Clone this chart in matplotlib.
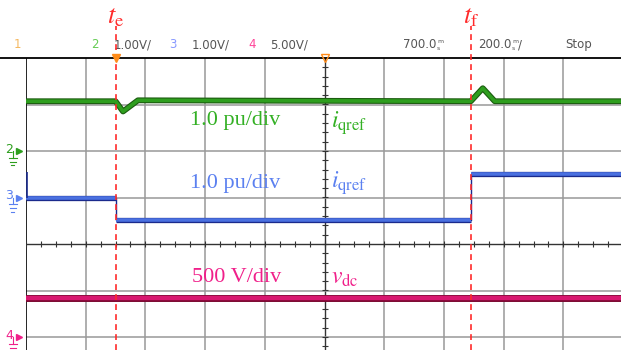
"""
Scope capture: iq, iqref and vdc around the events te and tf
"""
import numpy as np
import matplotlib.pyplot as plt
import matplotlib.patheffects as pe

plt.rcParams['mathtext.fontset'] = 'stix'

# time base
sec_per_div = 0.2
t_end = 1.993
t_e = 0.30
t_f = 1.49

# channel 2 (green), pu, ground marker at +2 div, 1.0 pu/div
ch2_offset = 2.0
ch2_t = [0.0, 0.300, 0.325, 0.375, 1.490, 1.530, 1.570, t_end]
ch2_v = [1.07, 1.07, 0.85, 1.09, 1.07, 1.35, 1.07, 1.07]

# channel 3 (blue), pu, ground marker at +1 div, 1.0 pu/div
ch3_offset = 1.0
ch3_edges = [0.0, t_e, t_f, t_end]
ch3_levels = [0.0, -0.48, 0.5]
ch3_spike = 0.55

# channel 4 (pink), volts, ground marker at -2 div, 500 V/div
ch4_offset = -2.0
ch4_volts_per_div = 500.0
ch4_t = [0.0, t_end]
ch4_v = [420.0, 420.0]

ylim = (-106 / 46.5, 4.0)

green, green_dk, green_txt = '#2e9e1e', '#1c5c10', '#33b024'
blue, blue_dk, blue_txt = '#4a70e0', '#1a2a8c', '#5b80f0'
pink, pink_dk, pink_txt = '#d81870', '#7a0830', '#f0208a'
red = '#ff2a2a'

fig = plt.figure(figsize=(6.21, 3.5), dpi=100)
ax = fig.add_axes([26 / 621, 0, 595 / 621, 292 / 350])
ax.set_xlim(0, t_end)
ax.set_ylim(*ylim)
ax.axis('off')

# grid
for k in range(1, 10):
    x = k * sec_per_div
    if k == 5:
        ax.axvline(x, color='#333333', lw=1.0, zorder=1)
    else:
        ax.axvline(x, color='#999999', lw=1.1, zorder=1)
for k in [-2, -1, 1, 2, 3]:
    ax.axhline(k, color='#999999', lw=1.1, zorder=1)
ax.axhline(0, color='#333333', lw=1.0, zorder=1)
ax.axvline(0, color='black', lw=1.2, zorder=1)
ax.plot([-0.09, t_end], [4, 4], color='black', lw=1.3, clip_on=False, zorder=1)

# center tick marks
xt = np.arange(0, t_end, sec_per_div / 4)
ax.plot(xt, np.zeros_like(xt), ls='', marker='|', ms=4, color='#333333', mew=0.8, zorder=1)
yt = np.arange(-2.2, 4.0, 0.2)
ax.plot(np.full_like(yt, 1.0), yt, ls='', marker='_', ms=4, color='#333333', mew=0.8, zorder=1)

# channel 2
ax.plot(ch2_t, np.array(ch2_v) + ch2_offset, color=green, lw=2.6, zorder=3,
        path_effects=[pe.Stroke(linewidth=4.2, foreground=green_dk), pe.Normal()])

# channel 3
ch3_y = np.array(ch3_levels) + ch3_offset
ax.step(ch3_edges, np.append(ch3_y, ch3_y[-1]), where='post', color=blue_dk, lw=1.0, zorder=3)
ax.hlines(ch3_y, ch3_edges[:-1], ch3_edges[1:], color=blue, lw=2.6, zorder=4,
          path_effects=[pe.Stroke(linewidth=3.8, foreground=blue_dk), pe.Normal()])
ax.vlines(0.003, ch3_offset, ch3_offset + ch3_spike, color=blue_dk, lw=1.2, zorder=4)

# channel 4
ax.plot(ch4_t, np.array(ch4_v) / ch4_volts_per_div + ch4_offset, color=pink, lw=3.2, zorder=3,
        path_effects=[pe.Stroke(linewidth=5.0, foreground=pink_dk), pe.Normal()])

# event markers
for t, lab in [(t_e, r'$t_\mathrm{e}$'), (t_f, r'$t_\mathrm{f}$')]:
    ax.plot([t, t], [ylim[0], 4.68], color=red, lw=1.2, ls=(0, (3.5, 2.5)), clip_on=False, zorder=5)
    ax.text(t, 4.9, lab, color=red, fontsize=19, ha='center', va='center')

# trigger markers on top edge
ax.plot(t_e, 4.0, marker='v', color='#ff8c1a', ms=6, clip_on=False, zorder=6)
ax.plot(1.0, 4.0, marker='v', mfc='none', mec='#ff8c1a', ms=6, clip_on=False, zorder=6)

# ground markers
gx = -0.044
for off, c, n in [(ch2_offset, green, '2'), (ch3_offset, blue_txt, '3'), (ch4_offset, pink_txt, '4')]:
    ax.text(gx - 0.012, off + 0.04, n, color=c, fontsize=9, ha='center', va='center')
    ax.plot(gx + 0.022, off, marker='>', color=c, ms=5, clip_on=False)
    ax.plot([gx, gx], [off, off - 0.15], color=c, lw=0.8, clip_on=False)
    for w, dy in [(0.014, 0.15), (0.009, 0.23), (0.005, 0.31)]:
        ax.plot([gx - w, gx + w], [off - dy, off - dy], color=c, lw=0.8, clip_on=False)

# annotations
serif = 'Liberation Serif'
ax.text(0.548, 2.65, '1.0 pu/div', color=green_txt, fontsize=16, family=serif, va='center')
ax.text(1.022, 2.6, r'$i_\mathrm{qref}$', color=green_txt, fontsize=17, va='center')
ax.text(0.548, 1.31, '1.0 pu/div', color=blue_txt, fontsize=16, family=serif, va='center')
ax.text(1.022, 1.3, r'$i_\mathrm{qref}$', color=blue_txt, fontsize=17, va='center')
ax.text(0.555, -0.71, '500 V/div', color=pink_txt, fontsize=16, family=serif, va='center')
ax.text(1.022, -0.72, r'$v_\mathrm{dc}$', color=pink_txt, fontsize=17, va='center')

# header line
hy = 4.28
hdr = '#555555'
def sec(px):
    return (px - 26) / 59.7 * sec_per_div

ax.text(sec(17), hy, '1', color='#f5b860', fontsize=8.5, ha='center', va='center')
ax.text(sec(95), hy, '2', color='#66cc55', fontsize=8.5, ha='center', va='center')
ax.text(sec(114), hy, '1.00V/', color=hdr, fontsize=8.5, va='center')
ax.text(sec(173), hy, '3', color='#8899ff', fontsize=8.5, ha='center', va='center')
ax.text(sec(192), hy, '1.00V/', color=hdr, fontsize=8.5, va='center')
ax.text(sec(252), hy, '4', color='#ff4499', fontsize=8.5, ha='center', va='center')
ax.text(sec(270), hy, '5.00V/', color=hdr, fontsize=8.5, va='center')
ax.text(sec(403), hy, '700.0', color=hdr, fontsize=8.5, va='center')
ax.text(sec(437), hy + 0.07, 'm', color=hdr, fontsize=4.5, va='center')
ax.text(sec(437), hy - 0.08, 's', color=hdr, fontsize=4.5, va='center')
ax.text(sec(478), hy, '200.0', color=hdr, fontsize=8.5, va='center')
ax.text(sec(512), hy + 0.07, 'm', color=hdr, fontsize=4.5, va='center')
ax.text(sec(512), hy - 0.08, 's', color=hdr, fontsize=4.5, va='center')
ax.text(sec(518), hy, '/', color=hdr, fontsize=8.5, va='center')
ax.text(sec(565), hy, 'Stop', color=hdr, fontsize=8.5, va='center')

plt.savefig('out.png', dpi=100)
